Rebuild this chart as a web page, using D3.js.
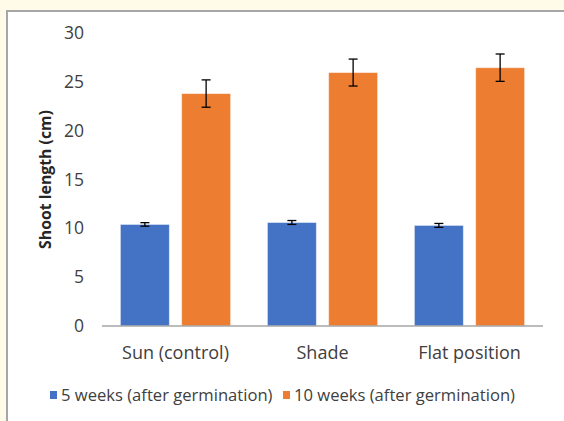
<!DOCTYPE html>
<html>
<head>
<meta charset="utf-8">
<script src="https://cdn.jsdelivr.net/npm/d3@7"></script>
<style>
  body { margin: 0; background: #fffbe8; }
  svg { display: block; }
  text { font-family: "Open Sans", sans-serif; fill: #404040; }
</style>
</head>
<body>
<div id="chart"></div>
<script>
// Chart Data
let categories = ["Sun (control)", "Shade", "Flat position"];
let seriesNames = ["5 weeks (after germination)", "10 weeks (after germination)"];
let week5 = [10.4, 10.6, 10.3];
let week5Err = [0.18, 0.2, 0.2];
let week10 = [23.8, 25.95, 26.45];
let week10Err = [1.4, 1.38, 1.4];
let yTicks = [0, 5, 10, 15, 20, 25, 30];
let colors = ["#4472c4", "#ed7d31"];

// Initialise Dimensions
let w = 564, h = 421;
let padLeft = 102, padRight = 543, padTop = 33, padBottom = 326;

let svg = d3.select("#chart").append("svg").attr("width", w).attr("height", h);

// Frame
svg.append("rect").attr("x", 7).attr("y", 11).attr("width", w).attr("height", h).attr("fill", "#fff").attr("stroke", "#a6a6a6").attr("stroke-width", 2);

// Scales
let x0 = d3.scaleBand().domain(categories).range([padLeft, padRight]).paddingInner(0.25).paddingOuter(0.125);
let x1 = d3.scaleBand().domain([0, 1]).range([0, x0.bandwidth()]).paddingInner(0.2);
let y = d3.scaleLinear().domain([0, 30]).range([padBottom, padTop]);

// Y Tick Labels
svg.append("g").selectAll("text").data(yTicks).join("text")
  .attr("x", 84).attr("y", (d) => { return y(d); }).attr("dy", "0.35em")
  .attr("text-anchor", "end").style("font-size", "17.5px").text((d) => { return d; });

// Bars
let rows = categories.map((c, i) => { return [ { c: c, s: 0, v: week5[i], e: week5Err[i] }, { c: c, s: 1, v: week10[i], e: week10Err[i] } ]; }).flat();
svg.append("g").selectAll("rect").data(rows).join("rect")
  .attr("x", (d) => { return x0(d.c) + x1(d.s); }).attr("y", (d) => { return y(d.v); })
  .attr("width", x1.bandwidth()).attr("height", (d) => { return y(0) - y(d.v); })
  .attr("fill", (d) => { return colors[d.s]; })
  .attr("stroke", "#ffffff").attr("stroke-opacity", 0.5).attr("stroke-width", 1);

// Error Bars
let eb = svg.append("g").attr("stroke", "#000").attr("stroke-width", 1.3);
rows.forEach((d) => {
  let cx = x0(d.c) + x1(d.s) + x1.bandwidth() / 2;
  eb.append("line").attr("x1", cx).attr("x2", cx).attr("y1", y(d.v + d.e)).attr("y2", y(d.v - d.e));
  eb.append("line").attr("x1", cx - 4.5).attr("x2", cx + 4.5).attr("y1", y(d.v + d.e)).attr("y2", y(d.v + d.e));
  eb.append("line").attr("x1", cx - 4.5).attr("x2", cx + 4.5).attr("y1", y(d.v - d.e)).attr("y2", y(d.v - d.e));
});

// X Axis Line
svg.append("line").attr("x1", padLeft).attr("x2", padRight).attr("y1", padBottom).attr("y2", padBottom).attr("stroke", "#a6a6a6").attr("stroke-width", 1.3);

// Category Labels
svg.append("g").selectAll("text").data(categories).join("text")
  .attr("x", (d) => { return x0(d) + x0.bandwidth() / 2; }).attr("y", 353).attr("dy", "0.35em")
  .attr("text-anchor", "middle").style("font-size", "18px").text((d) => { return d; });

// Y Axis Title
svg.append("text").attr("transform", "translate(45," + ((padTop + padBottom) / 2) + ") rotate(-90)")
  .attr("dy", "0.35em").attr("text-anchor", "middle")
  .style("font-size", "15.8px").style("font-weight", "bold").style("fill", "#262626").text("Shoot length (cm)");

// Legend
let legendX = [50, 283];
seriesNames.forEach((s, i) => {
  svg.append("rect").attr("x", legendX[i]).attr("y", 391).attr("width", 7).attr("height", 8).attr("fill", colors[i]);
  svg.append("text").attr("x", legendX[i] + 11).attr("y", 395).attr("dy", "0.35em").style("font-size", "16.6px").text(s);
});
</script>
</body>
</html>
